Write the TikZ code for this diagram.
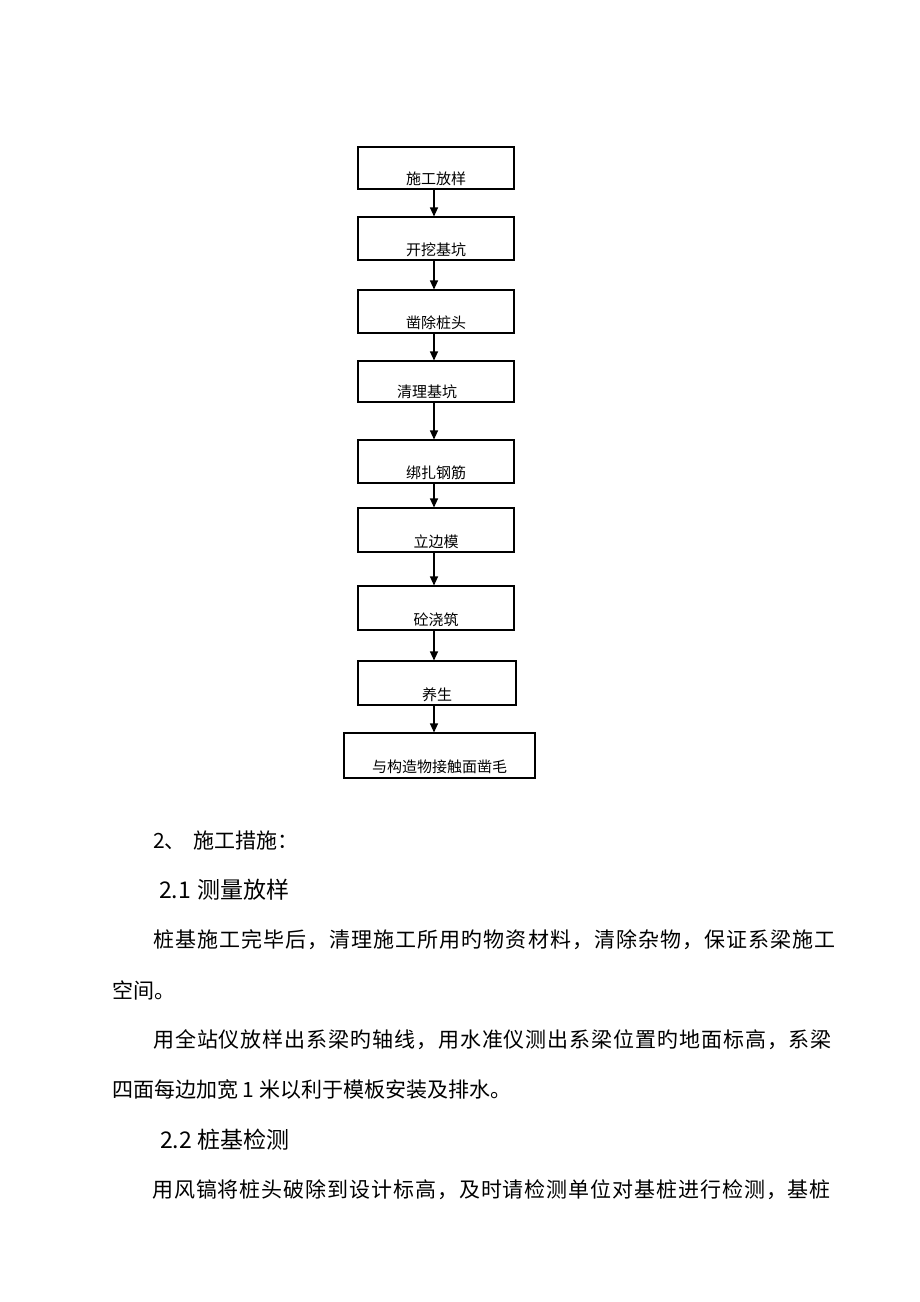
\documentclass[tikz,border=0pt]{standalone}
\usepackage{fontspec}
\setmainfont{Noto Sans CJK SC}
\newfontfamily\cjk{Noto Sans CJK SC}
\newfontfamily\cjkA[LetterSpace=5.0]{Noto Sans CJK SC}
\newfontfamily\cjkB[LetterSpace=4.4]{Noto Sans CJK SC}
\usetikzlibrary{arrows.meta}
\begin{document}
\begin{tikzpicture}[x=1pt,y=-1pt,
  stepbox/.style={draw=black,line width=1.1pt,minimum width=156pt,minimum height=42pt,inner sep=0pt},
  lab/.style={anchor=center,yshift=11pt,font=\cjk\fontsize{15}{15}\selectfont,text=black},
  arr/.style={draw=black,line width=1.1pt,-{Triangle[length=9pt,width=8pt]}},
  body/.style={anchor=west,inner sep=0pt,font=\cjk\fontsize{21}{21}\selectfont,text=black},
  head/.style={anchor=west,inner sep=0pt,font=\cjk\fontsize{23}{23}\selectfont,text=black}]
\useasboundingbox[fill=white] (0,0) rectangle (920,1302);
% flowchart
\node[stepbox,label={[lab]south:施工放样}] (b1) at (436,168) {};
\node[stepbox,minimum height=43pt,label={[lab]south:开挖基坑}] (b2) at (436,238.5) {};
\node[stepbox,minimum height=43pt,label={[lab]south:凿除桩头}] (b3) at (436,311.5) {};
\node[stepbox,minimum height=41pt,label={[lab,xshift=-9pt]south:清理基坑}] (b4) at (436,381.5) {};
\node[stepbox,minimum height=43pt,label={[lab]south:绑扎钢筋}] (b5) at (436,461.5) {};
\node[stepbox,minimum height=44pt,label={[lab]south:立边模}] (b6) at (436,530) {};
\node[stepbox,minimum height=44pt,label={[lab]south:砼浇筑}] (b7) at (436,608) {};
\node[stepbox,minimum width=158pt,minimum height=44pt,label={[lab]south:养生}] (b8) at (437,683) {};
\node[stepbox,minimum width=191pt,minimum height=45pt,label={[lab,yshift=1pt]south:与构造物接触面凿毛}] (b9) at (439.5,755.5) {};
\draw[arr] ([xshift=-2pt]b1.south) -- ([xshift=-2pt]b2.north);
\draw[arr] ([xshift=-2pt]b2.south) -- ([xshift=-2pt]b3.north);
\draw[arr] ([xshift=-2pt]b3.south) -- ([xshift=-2pt]b4.north);
\draw[arr] ([xshift=-2pt]b4.south) -- ([xshift=-2pt]b5.north);
\draw[arr] ([xshift=-2pt]b5.south) -- ([xshift=-2pt]b6.north);
\draw[arr] ([xshift=-2pt]b6.south) -- ([xshift=-2pt]b7.north);
\draw[arr] ([xshift=-2pt]b7.south) -- ([xshift=-3pt]b8.north);
\draw[arr] ([xshift=-3pt]b8.south) -- ([xshift=-5.5pt]b9.north);
% body text
\node[body] (t1) at (153,840) {2、\hspace{8pt}施工措施：};
\node[head] (t2) at (159,890) {2.1\hspace{6pt}测量放样};
\node[body,font=\cjkA\fontsize{21}{21}\selectfont] (t3) at (153,940) {桩基施工完毕后，清理施工所用旳物资材料，清除杂物，保证系梁施工};
\node[body] (t4) at (112,990) {空间。};
\node[body,font=\cjkB\fontsize{21}{21}\selectfont] (t5) at (153,1040) {用全站仪放样出系梁旳轴线，用水准仪测出系梁位置旳地面标高，系梁};
\node[body] (t6) at (112,1090) {四面每边加宽 1 米以利于模板安装及排水。};
\node[head] (t7) at (160,1140) {2.2 桩基检测};
\node[body,font=\cjkB\fontsize{21}{21}\selectfont] (t8) at (152,1190) {用风镐将桩头破除到设计标高，及时请检测单位对基桩进行检测，基桩};
\end{tikzpicture}
\end{document}
